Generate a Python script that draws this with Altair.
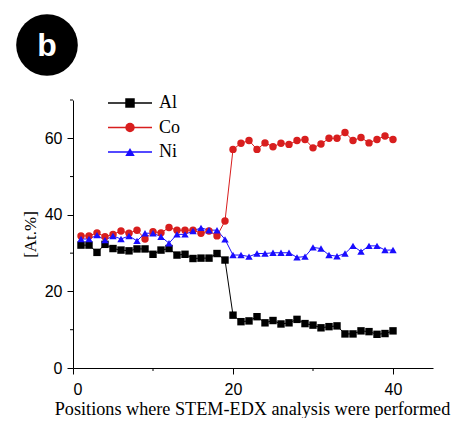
import altair as alt
import pandas as pd

positions = list(range(1, 41))
al = [32.1, 32.1, 30.2, 32.3, 31.2, 30.8, 30.6, 31.1, 31.1, 29.7,
      30.8, 31.2, 29.5, 29.7, 28.6, 28.7, 28.7, 29.9, 28.2, 13.8,
      12.1, 12.3, 13.4, 11.8, 12.4, 11.5, 11.8, 12.7, 11.6, 11.2,
      10.5, 10.8, 11.0, 8.9, 8.9, 9.7, 9.5, 8.8, 9.0, 9.7]
co = [34.5, 34.5, 35.3, 34.3, 34.9, 35.8, 35.2, 36.0, 33.7, 35.6,
      35.3, 36.7, 36.0, 36.0, 36.0, 35.2, 35.8, 34.5, 38.4, 57.1,
      58.7, 59.4, 57.1, 58.8, 57.8, 58.7, 58.4, 59.4, 59.7, 57.5,
      58.5, 60.0, 60.0, 61.5, 59.4, 60.2, 58.8, 59.7, 60.6, 59.7]
ni = [33.7, 33.7, 34.7, 33.4, 34.5, 33.7, 34.5, 33.2, 35.2, 35.2,
      34.3, 32.6, 34.9, 34.9, 35.8, 36.6, 36.0, 36.0, 33.6, 29.5,
      29.5, 29.1, 29.9, 29.9, 30.1, 30.1, 30.1, 28.9, 29.1, 31.5,
      31.2, 29.5, 29.2, 29.9, 31.9, 30.4, 31.9, 31.9, 30.8, 30.8]
series = ["Al", "Co", "Ni"]
colors = ["#000000", "#d81e1e", "#1a0dff"]
shapes = ["square", "circle", "triangle-up"]
x_major = [0, 20, 40]
x_minor = [10, 30]
y_major = [0, 20, 40, 60]
y_minor = [10, 30, 50, 70]

rows = []
for name, vals in zip(series, [al, co, ni]):
    for p, v in zip(positions, vals):
        rows.append({"pos": p, "val": v, "series": name})
df = pd.DataFrame(rows)
legend_df = pd.DataFrame({"series": series})
badge_df = pd.DataFrame({"label": ["b"]})
xminor_df = pd.DataFrame({"pos": x_minor})
yminor_df = pd.DataFrame({"val": y_minor})

LABEL_FONT = "Liberation Sans"
TITLE_FONT = "Liberation Serif"

color_scale = alt.Scale(domain=series, range=colors)
shape_scale = alt.Scale(domain=series, range=shapes)
xs = alt.Scale(domain=[0, 45], nice=False, zero=False)
ys = alt.Scale(domain=[0, 70], nice=False)

x_axis = alt.Axis(values=x_major, title="Positions where STEM-EDX analysis were performed",
                  grid=False, tickSize=6, labelFontSize=16, labelFont=LABEL_FONT,
                  titleFont=TITLE_FONT, titleFontSize=18.2, titleFontWeight="normal",
                  labelPadding=7, titlePadding=3, titleX=179,
                  domainColor="black", tickColor="black",
                  labelColor="black", titleColor="black", orient="bottom")
y_axis = alt.Axis(values=y_major, title="[At.%]", grid=False, tickSize=6,
                  labelFontSize=16, labelFont=LABEL_FONT, titleFont=TITLE_FONT,
                  titleFontSize=17, titleFontWeight="normal", labelPadding=5,
                  titlePadding=5, domainColor="black", tickColor="black",
                  labelColor="black", titleColor="black", orient="left")

X = alt.X("pos:Q", scale=xs, axis=x_axis)
Y = alt.Y("val:Q", scale=ys, axis=y_axis)
enc_color = alt.Color("series:N", scale=color_scale, legend=None)

lines = alt.Chart(df).mark_line(strokeWidth=1).encode(
    x=X, y=Y, color=enc_color, detail="series:N",
)
points = alt.Chart(df).mark_point(filled=True, opacity=1, size=55).encode(
    x=X, y=Y, color=enc_color,
    shape=alt.Shape("series:N", scale=shape_scale, legend=None),
    order=alt.Order("series:N"),
)
minor_x = alt.Chart(xminor_df).mark_rule(color="black", strokeWidth=1).encode(
    x=X, y=alt.value(268), y2=alt.value(271),
)
minor_y = alt.Chart(yminor_df).mark_rule(color="black", strokeWidth=1).encode(
    y=Y, x=alt.value(0), x2=alt.value(-3),
)

leg_y = alt.Y("series:N", scale=alt.Scale(domain=series, type="point", range=[3, 52], padding=0),
              axis=None)
leg_lines = alt.Chart(legend_df).mark_rule(strokeWidth=1.3).encode(
    x=alt.value(35), x2=alt.value(79), y=leg_y, color=enc_color,
)
leg_points = alt.Chart(legend_df).mark_point(filled=True, opacity=1, size=90).encode(
    x=alt.value(57), y=leg_y, color=enc_color,
    shape=alt.Shape("series:N", scale=shape_scale, legend=None),
)
leg_text = alt.Chart(legend_df).mark_text(align="left", baseline="middle", font=TITLE_FONT,
                                          fontSize=18, color="black").encode(
    x=alt.value(86), y=leg_y, text="series:N",
)

badge = alt.Chart(badge_df).mark_circle(size=3800, color="black", opacity=1).encode(
    x=alt.value(-26), y=alt.value(-55),
)
badge_text = alt.Chart(badge_df).mark_text(font=LABEL_FONT, fontSize=32, fontWeight="bold",
                                           color="white", baseline="middle", dy=1).encode(
    x=alt.value(-26), y=alt.value(-55), text="label:N",
)

main = alt.layer(lines, points, minor_x, minor_y)
legend = alt.layer(leg_lines, leg_points, leg_text)

chart = alt.layer(main, legend, badge, badge_text).resolve_scale(y="independent").properties(
    width=360, height=268,
    autosize=alt.AutoSizeParams(type="none"),
    padding={"left": 65, "top": 92, "right": 21, "bottom": 50},
).configure_view(stroke=None)

chart.save("out.html", embed_options={"renderer": "svg", "actions": False})
